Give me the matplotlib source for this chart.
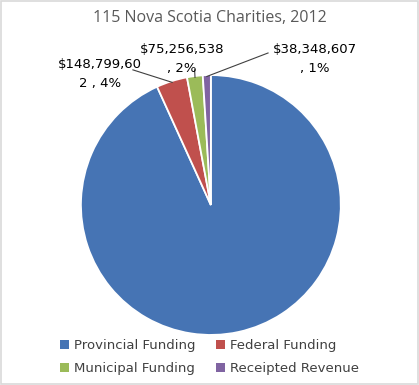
import matplotlib.pyplot as plt
from matplotlib.patches import Patch, Rectangle
import numpy as np

categories = ["Provincial Funding", "Federal Funding", "Municipal Funding", "Receipted Revenue"]
values = [3600000000, 148799602, 75256538, 38348607]
colors = ["#4674B4", "#C0504D", "#9BBB59", "#8064A2"]
label_text = ["", "$148,799,60\n2 , 4%", "$75,256,538\n, 2%", "$38,348,607\n, 1%"]

fig = plt.figure(figsize=(4.19, 3.85), dpi=100)
fig.patches.append(Rectangle((0.002, 0.002), 0.996, 0.996, transform=fig.transFigure,
                             fill=False, edgecolor="#D9D9D9", linewidth=1.2))

ax = fig.add_axes([0.193, 0.13, 0.6205, 0.675])
wedges, _ = ax.pie(values, colors=colors, startangle=90, counterclock=False,
                   wedgeprops=dict(edgecolor="white", linewidth=1.3))
ax.set_xlim(-1, 1)
ax.set_ylim(-1, 1)
ax.set_aspect("equal")

# label positions (data units) and leader-line start points
text_pos = [None, (-0.854, 1.01), (-0.223, 1.12), (0.80, 1.12)]
line_start = [None, (-0.60, 1.04), (-0.125, 1.04), (0.44, 1.17)]
for i, w in enumerate(wedges):
    if not label_text[i]:
        continue
    mid = np.deg2rad((w.theta1 + w.theta2) / 2)
    ex, ey = np.cos(mid), np.sin(mid)
    sx, sy = line_start[i]
    ax.plot([sx, ex * 0.99], [sy, ey * 0.99], color="#404040", linewidth=0.8, clip_on=False)
    ax.text(text_pos[i][0], text_pos[i][1], label_text[i], ha="center", va="center",
            fontsize=9.5, color="black", linespacing=1.6, clip_on=False)

fig.suptitle("115 Nova Scotia Charities, 2012", y=0.975, fontsize=11.5,
             color="#595959", family="Open Sans")

# legend fills column-wise, so order handles to read row-wise like the original
order = [0, 2, 1, 3]
handles = [Patch(facecolor=colors[k], edgecolor="none") for k in order]
fig.legend(handles, [categories[k] for k in order], ncol=2, loc="lower center",
           bbox_to_anchor=(0.5, -0.005), frameon=False, fontsize=9.5, handlelength=0.7,
           handleheight=0.7, handletextpad=0.4, columnspacing=1.5, labelspacing=0.75,
           labelcolor="#404040")

fig.savefig("out.png", dpi=100)
